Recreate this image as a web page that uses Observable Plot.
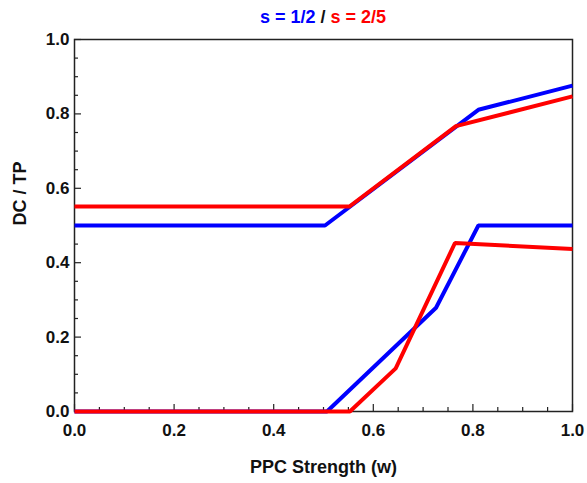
<!DOCTYPE html>
<html>
<head>
<meta charset="utf-8">
<script src="https://cdn.jsdelivr.net/npm/d3@7"></script>
<script src="https://cdn.jsdelivr.net/npm/@observablehq/plot@0.6"></script>
<style>
  html, body { margin: 0; padding: 0; background: white; }
  body { width: 587px; height: 483px; overflow: hidden; font-family: "Liberation Sans", Arial, sans-serif; }
  #title { box-sizing: border-box; height: 30px; padding-top: 7px; line-height: 20px; font-size: 18px; font-weight: bold; text-align: center; padding-left: 59px; }
  #title .blue { color: #0000ff; }
  #title .red { color: #ff0000; }
  #title .sep { color: #111; }
</style>
</head>
<body>
<div id="title"><span class="blue">s = 1/2</span> <span class="sep">/</span> <span class="red">s = 2/5</span></div>
<div id="chart"></div>
<script>
// Data
const blueUpperW = [0, 0.503, 0.811, 1.0];
const blueUpperV = [0.5, 0.5, 0.811, 0.876];
const redUpperW  = [0, 0.552, 0.766, 1.0];
const redUpperV  = [0.551, 0.551, 0.767, 0.847];
const blueLowerW = [0, 0.507, 0.726, 0.811, 1.0];
const blueLowerV = [0, 0, 0.279, 0.5, 0.5];
const redLowerW  = [0, 0.553, 0.645, 0.764, 1.0];
const redLowerV  = [0, 0, 0.116, 0.453, 0.437];

const majorTicks = [0, 0.2, 0.4, 0.6, 0.8, 1.0];
const minorTicks = [0.05, 0.1, 0.15, 0.25, 0.3, 0.35, 0.45, 0.5, 0.55, 0.65, 0.7, 0.75, 0.85, 0.9, 0.95];
const tickLabels = ["0.0", "0.2", "0.4", "0.6", "0.8", "1.0"];

const series = [
  {name: "s = 1/2 upper", color: "#0000ff", w: blueUpperW, v: blueUpperV},
  {name: "s = 1/2 lower", color: "#0000ff", w: blueLowerW, v: blueLowerV},
  {name: "s = 2/5 upper", color: "#ff0000", w: redUpperW, v: redUpperV},
  {name: "s = 2/5 lower", color: "#ff0000", w: redLowerW, v: redLowerV}
];
const rows = series.flatMap(s => s.w.map((w, i) => ({series: s.name, color: s.color, w, v: s.v[i]})));

const W = 587, H = 453;
const mT = 9, mB = 72, mL = 74, mR = 15;
const plotH = H - mT - mB, plotW = W - mL - mR;
const fontFamily = '"Liberation Sans", Arial, sans-serif';

const chart = Plot.plot({
  width: W, height: H,
  marginTop: mT, marginBottom: mB, marginLeft: mL, marginRight: mR,
  style: {fontFamily, fontWeight: "bold", color: "#111", background: "white", overflow: "visible"},
  x: {domain: [0, 1], axis: null},
  y: {domain: [0, 1], axis: null},
  marks: [
    // inward ticks
    Plot.tickX(majorTicks, {x: d => d, insetTop: plotH - 7, stroke: "#222", strokeWidth: 1.2}),
    Plot.tickX(minorTicks, {x: d => d, insetTop: plotH - 4, stroke: "#222", strokeWidth: 1.2}),
    Plot.tickY(majorTicks, {y: d => d, insetRight: plotW - 7, stroke: "#222", strokeWidth: 1.2}),
    Plot.tickY(minorTicks, {y: d => d, insetRight: plotW - 4, stroke: "#222", strokeWidth: 1.2}),
    Plot.frame({stroke: "#222", strokeWidth: 1.5}),
    // tick labels
    Plot.text(majorTicks, {x: d => d, text: (d, i) => tickLabels[i], frameAnchor: "bottom", lineAnchor: "top", dy: 12, fontSize: 17, fill: "#111"}),
    Plot.text(majorTicks, {y: d => d, text: (d, i) => tickLabels[i], frameAnchor: "left", textAnchor: "end", dx: -5, fontSize: 17, fill: "#111"}),
    // axis titles
    Plot.text(["PPC Strength (w)"], {text: d => d, frameAnchor: "bottom", lineAnchor: "bottom", dy: 61, fontSize: 18, fill: "#111"}),
    Plot.text(["DC / TP"], {text: d => d, frameAnchor: "left", rotate: -90, dx: -54, fontSize: 18, fill: "#111"}),
    // lines
    Plot.line(rows, {x: "w", y: "v", z: "series", stroke: "color", strokeWidth: 4, strokeLinejoin: "miter", strokeLinecap: "butt"})
  ]
});
document.getElementById("chart").appendChild(chart);
</script>
</body>
</html>
